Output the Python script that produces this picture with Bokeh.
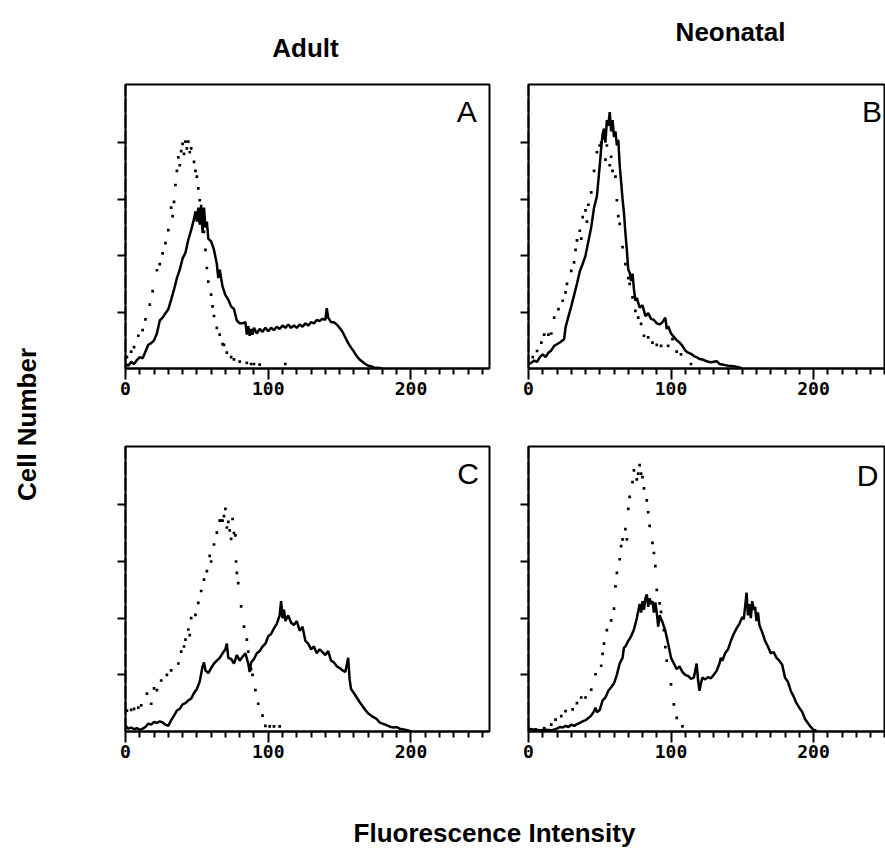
import math
from bokeh.plotting import figure
from bokeh.layouts import row, column
from bokeh.models import Range1d, FixedTicker, Label
from bokeh.embed import file_html
from bokeh.resources import INLINE

# ---------------- data (channel, relative cell number) ----------------
col_titles = ["Adult", "Neonatal"]
panel_letters = ["A", "B", "C", "D"]
x_title = "Fluorescence Intensity"
y_title = "Cell Number"

x_labelled_ticks = [0, 100, 200]
x_small_ticks = [10, 20, 30, 40, 50, 60, 70, 80, 90, 110, 120, 130, 140, 150,
                 160, 170, 180, 190, 210, 220, 230, 240, 250]
y_ticks = [1, 2, 3, 4]

a_solid = [(0, 0.08), (2, 0.05), (4, 0.12), (6, 0.08), (8, 0.15), (10, 0.2), (12, 0.18),
           (14, 0.3), (16, 0.42), (18, 0.45), (20, 0.5), (22, 0.62), (24, 0.85), (26, 0.9),
           (28, 0.98), (30, 1.05), (32, 1.22), (34, 1.4), (36, 1.6), (38, 1.75), (40, 1.95),
           (42, 2.05), (44, 2.28), (46, 2.45), (48, 2.65), (49, 2.78), (50, 2.6), (51, 2.85),
           (52, 2.55), (53, 2.9), (54, 2.4), (55, 2.85), (56, 2.5), (57, 2.6), (58, 2.3),
           (60, 2.25), (62, 2.1), (64, 1.85), (65, 1.6), (66, 1.75), (68, 1.45), (70, 1.3),
           (72, 1.22), (74, 1.1), (76, 1.05), (78, 0.85), (80, 0.8), (82, 0.8), (84, 0.82),
           (85, 0.6), (86, 0.75), (87, 0.58), (88, 0.7), (89, 0.6), (90, 0.72), (92, 0.62),
           (94, 0.7), (96, 0.65), (98, 0.72), (100, 0.66), (102, 0.72), (104, 0.68), (106, 0.74),
           (108, 0.7), (110, 0.76), (112, 0.72), (114, 0.78), (116, 0.72), (118, 0.76), (120, 0.72),
           (122, 0.78), (124, 0.74), (126, 0.8), (128, 0.76), (130, 0.82), (132, 0.8), (134, 0.86),
           (136, 0.84), (138, 0.88), (140, 0.86), (141, 1.07), (142, 0.9), (144, 0.82), (146, 0.82),
           (148, 0.78), (150, 0.72), (152, 0.65), (154, 0.55), (156, 0.45), (158, 0.37), (160, 0.3),
           (162, 0.22), (164, 0.16), (166, 0.12), (168, 0.08), (170, 0.05), (172, 0.04), (174, 0.02),
           (178, 0.01), (180, 0.0)]

a_dotted = [(1, 0.2), (4, 0.3), (6, 0.38), (9, 0.58), (12, 0.68), (14, 0.87), (17, 1.13), (19, 1.37),
            (22, 1.74), (24, 1.85), (26, 2.04), (28, 2.22), (30, 2.45), (32, 2.85), (33, 2.7),
            (34, 2.95), (35, 3.25), (36, 3.5), (37, 3.74), (38, 3.6), (39, 3.85), (40, 3.98),
            (41, 3.8), (42, 4.02), (43, 3.9), (44, 4.02), (45, 3.83), (46, 3.9), (48, 3.66),
            (49, 3.5), (50, 3.4), (51, 3.19), (52, 2.98), (53, 2.7), (55, 2.42), (56, 2.1),
            (57, 1.78), (58, 1.54), (60, 1.31), (61, 1.1), (62, 0.93), (64, 0.72), (66, 0.6),
            (68, 0.43), (69, 0.42), (71, 0.28), (74, 0.2), (76, 0.16), (80, 0.12), (85, 0.1),
            (88, 0.08), (90, 0.08), (94, 0.07), (112, 0.08)]

b_solid = [(0, 0.08), (2, 0.1), (4, 0.14), (6, 0.12), (8, 0.2), (10, 0.25), (12, 0.2), (14, 0.28),
           (16, 0.32), (18, 0.4), (20, 0.43), (22, 0.46), (24, 0.5), (25, 0.52), (26, 0.73),
           (28, 0.92), (30, 1.1), (32, 1.3), (34, 1.5), (36, 1.72), (38, 1.85), (40, 2.0),
           (42, 2.25), (44, 2.5), (46, 2.85), (48, 3.05), (50, 3.6), (51, 3.9), (52, 4.15),
           (53, 4.25), (54, 4.0), (55, 4.4), (56, 4.3), (57, 4.54), (58, 4.2), (59, 4.4),
           (60, 4.1), (61, 4.2), (62, 3.95), (63, 4.05), (64, 3.6), (65, 3.3), (66, 3.0),
           (67, 2.75), (68, 2.4), (69, 2.1), (70, 1.75), (71, 1.7), (72, 1.55), (73, 1.68),
           (74, 1.4), (75, 1.2), (76, 1.25), (78, 1.08), (80, 1.12), (82, 0.93), (84, 0.98),
           (86, 0.88), (88, 0.86), (90, 0.8), (92, 0.78), (94, 0.82), (96, 0.9), (97, 0.7),
           (98, 0.75), (100, 0.62), (102, 0.56), (104, 0.5), (106, 0.46), (108, 0.4), (110, 0.32),
           (112, 0.28), (114, 0.26), (116, 0.22), (118, 0.2), (120, 0.17), (122, 0.16), (124, 0.14),
           (126, 0.12), (128, 0.11), (130, 0.12), (132, 0.13), (134, 0.08), (136, 0.07),
           (138, 0.06), (140, 0.05), (144, 0.04), (148, 0.02), (150, 0.0)]

b_dotted = [(3, 0.2), (6, 0.31), (9, 0.46), (11, 0.6), (14, 0.6), (16, 0.62), (18, 0.9), (21, 1.05),
            (24, 1.2), (26, 1.35), (27, 1.5), (30, 1.73), (32, 1.88), (33, 2.1), (34, 2.27),
            (36, 2.44), (37, 2.3), (38, 2.68), (40, 2.8), (41, 2.6), (42, 2.9), (44, 3.12),
            (46, 3.5), (48, 3.83), (50, 3.95), (51, 4.0), (53, 4.08), (54, 3.7), (55, 3.95),
            (57, 3.6), (58, 3.75), (59, 3.5), (61, 3.4), (62, 2.98), (63, 2.7), (64, 2.56),
            (66, 2.15), (68, 1.85), (70, 1.6), (71, 1.5), (73, 1.26), (75, 1.02), (77, 0.9),
            (79, 0.79), (81, 0.58), (84, 0.55), (87, 0.46), (90, 0.42), (93, 0.4), (98, 0.4),
            (101, 0.52), (104, 0.3), (107, 0.25), (114, 0.08)]

c_solid = [(0, 0.1), (2, 0.05), (4, 0.07), (6, 0.04), (8, 0.06), (10, 0.03), (12, 0.05), (14, 0.08),
           (16, 0.14), (18, 0.12), (20, 0.17), (22, 0.15), (24, 0.18), (26, 0.16), (28, 0.12),
           (30, 0.1), (32, 0.2), (34, 0.28), (36, 0.37), (38, 0.4), (40, 0.48), (42, 0.5),
           (44, 0.55), (46, 0.58), (48, 0.68), (50, 0.75), (52, 0.88), (54, 1.15), (55, 1.22),
           (56, 1.08), (58, 1.03), (60, 1.12), (62, 1.2), (64, 1.25), (66, 1.3), (68, 1.38),
           (70, 1.45), (71, 1.55), (72, 1.3), (74, 1.28), (76, 1.2), (78, 1.35), (80, 1.25),
           (82, 1.32), (84, 1.38), (86, 1.2), (87, 1.05), (88, 1.22), (90, 1.28), (92, 1.38),
           (94, 1.42), (96, 1.5), (98, 1.55), (100, 1.68), (102, 1.72), (104, 1.82), (106, 1.9),
           (108, 2.05), (109, 2.3), (110, 2.0), (111, 2.15), (112, 1.95), (114, 2.05), (116, 1.92),
           (118, 1.88), (120, 1.95), (122, 1.78), (124, 1.85), (126, 1.6), (128, 1.55), (130, 1.45),
           (132, 1.5), (134, 1.38), (136, 1.45), (138, 1.4), (140, 1.35), (142, 1.42), (144, 1.25),
           (146, 1.22), (148, 1.15), (150, 1.12), (152, 1.08), (154, 1.05), (156, 1.3), (157, 0.92),
           (158, 0.75), (160, 0.68), (162, 0.6), (164, 0.52), (166, 0.45), (168, 0.38), (170, 0.32),
           (172, 0.28), (174, 0.25), (176, 0.22), (178, 0.16), (180, 0.14), (182, 0.12), (184, 0.1),
           (186, 0.08), (188, 0.07), (190, 0.08), (192, 0.05), (196, 0.03), (198, 0.02), (200, 0.0)]

c_dotted = [(1, 0.37), (4, 0.38), (6, 0.4), (9, 0.42), (11, 0.46), (15, 0.67), (18, 0.49), (20, 0.76),
            (22, 0.73), (25, 0.9), (29, 1.0), (32, 1.08), (37, 1.2), (39, 1.41), (41, 1.5), (42, 1.62),
            (44, 1.8), (45, 1.7), (46, 2.0), (49, 2.06), (51, 2.27), (53, 2.48), (55, 2.68),
            (57, 2.83), (59, 3.1), (60, 3.0), (62, 3.3), (64, 3.51), (66, 3.72), (67, 3.72),
            (68, 3.72), (69, 3.8), (70, 3.93), (71, 3.6), (72, 3.7), (73, 3.55), (74, 3.4),
            (75, 3.75), (76, 3.5), (77, 3.46), (77.5, 3.0), (78, 2.8), (79, 2.62), (81, 2.21),
            (83, 1.85), (85, 1.62), (86, 1.41), (88, 1.1), (89, 1.0), (91, 0.73), (93, 0.49),
            (96, 0.28), (98, 0.1), (101, 0.09), (104, 0.09), (108, 0.09)]

d_solid = [(0, 0.05), (4, 0.03), (8, 0.02), (12, 0.03), (16, 0.02), (20, 0.05), (22, 0.08), (24, 0.07),
           (26, 0.1), (28, 0.08), (30, 0.12), (32, 0.1), (34, 0.13), (36, 0.15), (38, 0.18), (40, 0.2),
           (42, 0.24), (44, 0.28), (46, 0.36), (47, 0.42), (48, 0.34), (50, 0.38), (52, 0.55),
           (54, 0.6), (56, 0.72), (58, 0.78), (60, 0.85), (62, 1.0), (63, 1.1), (64, 1.2), (66, 1.3),
           (67, 1.48), (68, 1.5), (70, 1.6), (72, 1.68), (74, 1.8), (76, 2.0), (78, 2.25), (79, 2.1),
           (80, 2.3), (81, 2.15), (82, 2.35), (83, 2.42), (84, 2.2), (85, 2.35), (86, 2.25),
           (87, 2.3), (88, 2.1), (89, 2.28), (90, 2.1), (91, 1.85), (92, 2.05), (94, 1.93),
           (96, 1.78), (98, 1.55), (100, 1.3), (101, 1.25), (102, 1.2), (104, 1.1), (106, 1.15),
           (108, 1.05), (110, 1.0), (112, 0.98), (114, 0.93), (116, 0.95), (118, 1.2), (119, 0.9),
           (120, 0.72), (121, 0.85), (122, 0.95), (124, 0.92), (126, 0.96), (128, 0.94), (130, 1.0),
           (132, 1.07), (134, 1.2), (135, 1.3), (136, 1.25), (138, 1.38), (140, 1.45), (142, 1.6),
           (144, 1.72), (146, 1.82), (148, 1.9), (150, 2.02), (151, 1.98), (152, 2.2), (153, 2.45),
           (154, 2.05), (155, 2.25), (156, 2.0), (157, 2.3), (158, 2.15), (159, 2.2), (160, 1.95),
           (161, 2.1), (162, 1.88), (164, 1.75), (166, 1.6), (168, 1.5), (170, 1.38), (172, 1.4),
           (174, 1.3), (176, 1.25), (178, 1.18), (180, 0.95), (182, 0.88), (184, 0.72), (186, 0.62),
           (188, 0.5), (190, 0.42), (192, 0.35), (194, 0.22), (196, 0.15), (198, 0.08), (200, 0.03),
           (202, 0.02)]

d_dotted = [(5, 0.04), (11, 0.06), (16, 0.12), (19, 0.21), (23, 0.27), (26, 0.36), (31, 0.39), (34, 0.5),
            (37, 0.6), (40, 0.6), (44, 0.74), (47, 1.01), (51, 1.16), (52, 1.37), (53, 1.55),
            (55, 1.79), (58, 1.96), (60, 2.17), (61, 2.56), (62, 2.8), (64, 3.04), (65, 3.27),
            (66, 3.39), (68, 3.57), (69, 3.39), (70, 3.93), (71, 4.14), (73, 4.4), (74, 4.61),
            (76, 4.45), (77, 4.55), (78, 4.7), (79, 4.55), (80, 4.49), (81, 4.29), (83, 4.08),
            (84, 3.87), (85, 3.63), (87, 3.33), (88, 3.15), (89, 2.92), (90, 2.5), (92, 2.26),
            (93, 2.11), (95, 1.79), (96, 1.49), (97, 1.25), (100, 0.83), (102, 0.48), (104, 0.24),
            (108, 0.09)]

# ---------------- styling helpers ----------------
SANS = "Liberation Sans"


def blank_strip(w, h):
    p = figure(width=w, height=h, x_range=Range1d(0, w), y_range=Range1d(0, h),
               toolbar_location=None, output_backend="svg",
               x_axis_location=None, y_axis_location=None,
               min_border=0, min_border_left=0, min_border_right=0,
               min_border_top=0, min_border_bottom=0)
    p.outline_line_color = None
    p.xgrid.visible = False
    p.ygrid.visible = False
    p.background_fill_color = "white"
    p.border_fill_color = "white"
    return p


def add_text(p, h, x, y_from_top, text, size, angle=0.0):
    p.add_layout(Label(x=x, y=h - y_from_top, text=text, angle=angle,
                       text_align="center", text_baseline="middle",
                       text_font=SANS, text_font_size=size, text_font_style="bold",
                       text_color="black"))


def panel(w, h, left, right, top, bottom, xmax, solid, dotted, letter, lx, ly):
    p = figure(width=w, height=h, x_range=Range1d(0, xmax), y_range=Range1d(0, 5.03),
               toolbar_location=None, output_backend="svg",
               min_border_left=left, min_border_right=right,
               min_border_top=top, min_border_bottom=bottom)
    p.xgrid.visible = False
    p.ygrid.visible = False
    p.background_fill_color = "white"
    p.border_fill_color = "white"
    p.outline_line_color = "black"
    p.outline_line_width = 2

    xa = p.xaxis[0]
    xa.ticker = FixedTicker(ticks=x_labelled_ticks, minor_ticks=x_small_ticks)
    xa.axis_line_width = 2
    xa.axis_line_color = "black"
    xa.major_tick_line_width = 2
    xa.major_tick_line_color = "black"
    xa.major_tick_out = 11
    xa.major_tick_in = 0
    xa.minor_tick_line_width = 2
    xa.minor_tick_line_color = "black"
    xa.minor_tick_out = 6
    xa.minor_tick_in = 0
    xa.major_label_standoff = 2
    xa.major_label_text_font = "DejaVu Sans Mono"
    xa.major_label_text_font_style = "bold"
    xa.major_label_text_font_size = "18px"
    xa.major_label_text_color = "black"

    ya = p.yaxis[0]
    # unlabelled tick marks only: drawn as the axis' minor ticks
    ya.ticker = FixedTicker(ticks=[], minor_ticks=y_ticks)
    ya.axis_line_width = 2
    ya.axis_line_color = "black"
    ya.axis_line_dash = "14 2"
    ya.minor_tick_line_width = 2
    ya.minor_tick_line_color = "black"
    ya.minor_tick_out = 8
    ya.minor_tick_in = 0
    ya.major_tick_out = 0
    ya.major_tick_in = 0

    sx = [pt[0] for pt in solid]
    sy = [pt[1] for pt in solid]
    dx = [pt[0] for pt in dotted]
    dy = [pt[1] for pt in dotted]
    p.scatter(dx, dy, marker="square", size=2.7, color="black", line_width=0)
    p.line(sx, sy, line_color="black", line_width=2.5)

    p.add_layout(Label(x=lx, y=ly, text=letter, text_align="center", text_baseline="middle",
                       text_font=SANS, text_font_size="30px", text_color="black"))
    return p


# ---------------- layout ----------------
LEFT_W = 100
RIGHT_W = 785
TOP_H = 70
ROW1_H = 340
ROW2_H = 360
BOT_H = 80
TOTAL_H = TOP_H + ROW1_H + ROW2_H + BOT_H

left_strip = blank_strip(LEFT_W, TOTAL_H)
add_text(left_strip, TOTAL_H, 26, 424, y_title, "26px", angle=math.pi / 2)

top_strip = blank_strip(RIGHT_W, TOP_H)
add_text(top_strip, TOP_H, 205, 47, col_titles[0], "26px")
add_text(top_strip, TOP_H, 630, 31, col_titles[1], "26px")

bottom_strip = blank_strip(RIGHT_W, BOT_H)
add_text(bottom_strip, BOT_H, 394, 62, x_title, "26px")

pa = panel(405, ROW1_H, 25, 16, 14, 42, 255, a_solid, a_dotted, panel_letters[0], 239, 4.55)
pb = panel(380, ROW1_H, 23, 0, 14, 42, 250.5, b_solid, b_dotted, panel_letters[1], 241, 4.55)
pc = panel(405, ROW2_H, 25, 16, 36, 39, 255, c_solid, c_dotted, panel_letters[2], 240, 4.55)
pd = panel(380, ROW2_H, 23, 0, 36, 39, 250.5, d_solid, d_dotted, panel_letters[3], 238, 4.52)

layout = row(left_strip,
             column(top_strip, row(pa, pb), row(pc, pd), bottom_strip))

open("out.html", "w").write(file_html(layout, INLINE))
